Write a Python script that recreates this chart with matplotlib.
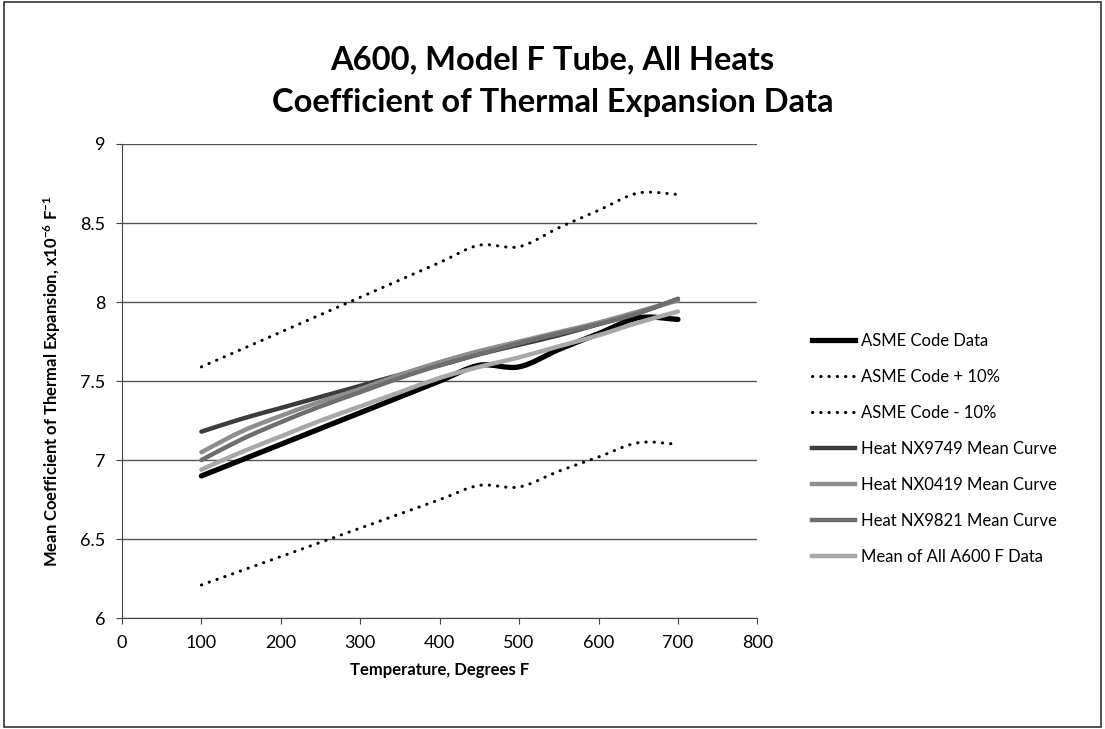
import matplotlib
matplotlib.use("Agg")
import matplotlib.pyplot as plt
from matplotlib.patches import Rectangle, PathPatch
from matplotlib.path import Path
from matplotlib.lines import Line2D

plt.rcParams.update({"font.family": ["Lato", "DejaVu Sans"], "mathtext.default": "regular"})

# temperature, deg F
temp = [100, 150, 200, 250, 300, 350, 400, 450, 500, 550, 600, 650, 700]

# mean CTE, x1e-6 /F
asme = [6.90, 7.00, 7.10, 7.20, 7.30, 7.40, 7.50, 7.60, 7.59, 7.70, 7.80, 7.90, 7.89]
asme_hi = [7.59, 7.70, 7.81, 7.92, 8.03, 8.14, 8.25, 8.36, 8.35, 8.47, 8.58, 8.69, 8.68]
asme_lo = [6.21, 6.30, 6.39, 6.48, 6.57, 6.66, 6.75, 6.84, 6.83, 6.93, 7.02, 7.11, 7.10]
nx9749 = [7.18, 7.26, 7.33, 7.40, 7.47, 7.54, 7.60, 7.67, 7.73, 7.79, 7.86, 7.93, 8.02]
nx0419 = [7.05, 7.18, 7.28, 7.37, 7.45, 7.54, 7.62, 7.69, 7.75, 7.81, 7.87, 7.94, 8.01]
nx9821 = [7.00, 7.13, 7.24, 7.34, 7.43, 7.52, 7.60, 7.67, 7.74, 7.80, 7.86, 7.93, 8.02]
mean_all = [6.94, 7.05, 7.15, 7.25, 7.34, 7.43, 7.52, 7.59, 7.65, 7.72, 7.79, 7.87, 7.94]

series = [
    ("ASME Code Data", asme, dict(color="black", lw=3.8, ls="-")),
    ("ASME Code + 10%", asme_hi, dict(color="black", lw=2.2, ls=(0, (0.1, 2.6)))),
    ("ASME Code - 10%", asme_lo, dict(color="black", lw=2.2, ls=(0, (0.1, 2.6)))),
    ("Heat NX9749 Mean Curve", nx9749, dict(color="#3c3c3c", lw=3.2, ls="-")),
    ("Heat NX0419 Mean Curve", nx0419, dict(color="#8e8e8e", lw=3.2, ls="-")),
    ("Heat NX9821 Mean Curve", nx9821, dict(color="#6e6e6e", lw=3.2, ls="-")),
    ("Mean of All A600 F Data", mean_all, dict(color="#a8a8a8", lw=3.2, ls="-")),
]


def smooth_path(xs, ys):
    # spreadsheet-style smoothed line: cubic Bezier segments through the points
    verts = [(xs[0], ys[0])]
    codes = [Path.MOVETO]
    n = len(xs)
    for i in range(n - 1):
        x0, y0 = (xs[i - 1], ys[i - 1]) if i > 0 else (xs[i], ys[i])
        x1, y1 = xs[i], ys[i]
        x2, y2 = xs[i + 1], ys[i + 1]
        x3, y3 = (xs[i + 2], ys[i + 2]) if i + 2 < n else (x2, y2)
        c1 = (x1 + (x2 - x0) / 6, y1 + (y2 - y0) / 6)
        c2 = (x2 - (x3 - x1) / 6, y2 - (y3 - y1) / 6)
        verts += [c1, c2, (x2, y2)]
        codes += [Path.CURVE4] * 3
    return Path(verts, codes)


fig = plt.figure(figsize=(11.05, 7.29), dpi=100)
ax = fig.add_axes([0.1104, 0.152, 0.575, 0.6505])

handles = []
for i, (name, vals, st) in enumerate(series):
    z = 3 if i < 3 else 4
    ax.add_patch(PathPatch(smooth_path(temp, vals), fill=False, edgecolor=st["color"],
                           lw=st["lw"], ls=st["ls"], capstyle="round", joinstyle="round",
                           zorder=z))
    handles.append(Line2D([], [], color=st["color"], lw=st["lw"], ls=st["ls"],
                          dash_capstyle="round", label=name))

ax.set_xlim(0, 800)
ax.set_ylim(6, 9)
ax.set_xticks(range(0, 801, 100))
ax.set_yticks([6, 6.5, 7, 7.5, 8, 8.5, 9])
ax.set_yticklabels(["6", "6.5", "7", "7.5", "8", "8.5", "9"])
ax.tick_params(labelsize=13, length=4, color="#444444", pad=8)
ax.grid(axis="y", color="#555555", lw=1.0)
ax.set_axisbelow(True)
for s in ("top", "right"):
    ax.spines[s].set_visible(False)
for s in ("left", "bottom"):
    ax.spines[s].set_color("#444444")

ax.set_xlabel("Temperature, Degrees F", fontsize=12, fontweight="bold", labelpad=8)
ax.set_ylabel("Mean Coefficient of Thermal Expansion, x10$^{-6}$ F$^{-1}$",
              fontsize=12, fontweight="bold", labelpad=12)

fig.text(0.5, 0.918, "A600, Model F Tube, All Heats", ha="center", va="center",
         fontsize=23.5, fontweight="bold")
fig.text(0.5, 0.86, "Coefficient of Thermal Expansion Data", ha="center", va="center",
         fontsize=23.5, fontweight="bold")

ax.legend(handles=handles, loc="upper left", bbox_to_anchor=(1.075, 0.615), frameon=False,
          fontsize=12, handlelength=2.6, handletextpad=0.35, labelspacing=1.2, borderaxespad=0)

# outer frame around the whole chart
fig.patches.append(Rectangle((0.004, 0.003), 0.992, 0.994, transform=fig.transFigure,
                             fill=False, edgecolor="#333333", lw=1.2))

fig.savefig("out.png", dpi=100)
